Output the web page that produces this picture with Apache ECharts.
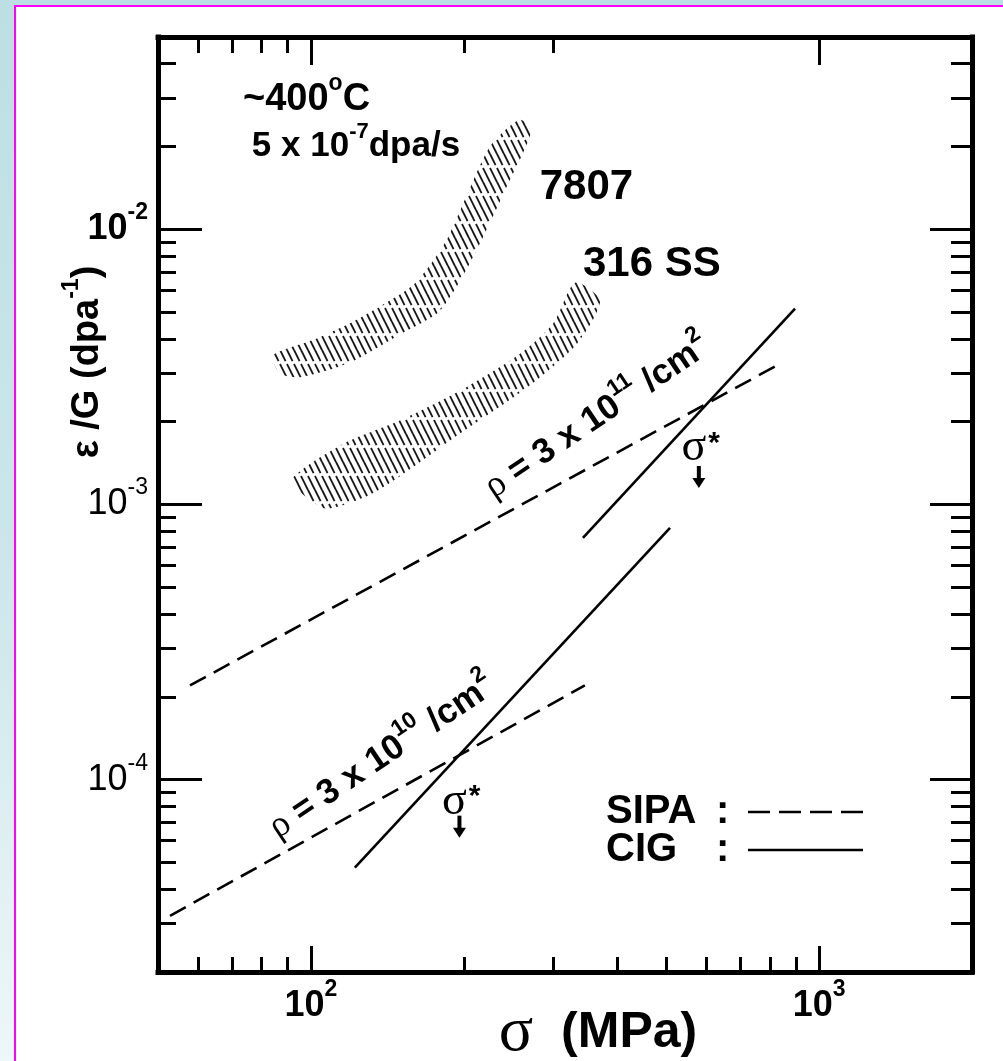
<!DOCTYPE html>
<html>
<head>
<meta charset="utf-8">
<script src="https://cdn.jsdelivr.net/npm/echarts@6/dist/echarts.min.js"></script>
<style>
  html, body { margin: 0; padding: 0; width: 1003px; height: 1061px; overflow: hidden;
    background: linear-gradient(to bottom, #bcdfe4 0%, #cde7ea 55%, #eef7f9 100%); }
  #panel { position: absolute; left: 14px; top: 5px; width: 1003px; height: 1070px;
    background: #fff; border-left: 2px solid #ff00ff; border-top: 2px solid #ff00ff; }
  #chart { position: absolute; left: 0; top: 0; width: 1003px; height: 1061px; }
</style>
</head>
<body>
<div id="panel"></div>
<div id="chart"></div>
<script>
// Irradiation creep per dose, eps/G (dpa^-1), against stress sigma (MPa), ~400 C, 5e-7 dpa/s

// axis ranges and ticks
const sigmaRange = [50, 2000];
const rateRange = [2e-5, 5e-2];
const xMajorTicks = [100, 1000];
const xMinorBottom = [60, 70, 80, 90, 200, 300, 400, 500, 600, 700, 800, 900];
const xMinorTop = [60, 70, 80, 90, 200, 300];
const yMajorTicks = [1e-4, 1e-3, 1e-2];
const yMinorTicks = [3e-5, 4e-5, 5e-5, 6e-5, 7e-5, 8e-5, 9e-5,
  2e-4, 3e-4, 4e-4, 5e-4, 6e-4, 7e-4, 8e-4, 9e-4,
  2e-3, 3e-3, 4e-3, 5e-3, 6e-3, 7e-3, 8e-3, 9e-3,
  2e-2, 3e-2, 4e-2];

// SIPA model (dashed), two dislocation densities
const sipaRho11 = [[57.8, 2.20e-4], [846, 3.28e-3]];
const sipaRho10 = [[52.8, 3.20e-5], [346, 2.20e-4]];
// CIG model (solid)
const cigRho11 = [[343, 7.57e-4], [897, 5.15e-3]];
const cigRho10 = [[122, 4.79e-5], [509, 8.23e-4]];

// measured scatter bands (upper edge left->right, lower edge left->right)
const band7807Upper = [[84.2, 3.48e-3], [100.5, 3.95e-3], [120.6, 4.60e-3], [140.3, 5.40e-3],
  [158.5, 6.25e-3], [173.2, 7.60e-3], [186.4, 9.40e-3], [203.8, 1.36e-2], [225.2, 2.00e-2], [257.0, 2.50e-2]];
const band7807Lower = [[86.9, 3.00e-3], [95.1, 2.90e-3], [119.3, 3.28e-3], [149.7, 4.15e-3],
  [177.0, 4.94e-3], [190.9, 5.95e-3], [203.6, 7.30e-3], [219.5, 9.60e-3], [240.8, 1.38e-2], [272.0, 2.30e-2]];
const band316Upper = [[91.7, 1.24e-3], [115.6, 1.66e-3], [149.7, 2.02e-3], [196.5, 2.59e-3],
  [257.9, 3.53e-3], [299.5, 4.54e-3], [331.0, 6.40e-3]];
const band316Lower = [[96.4, 1.09e-3], [107.5, 9.66e-4], [134.9, 1.12e-3], [196.5, 1.81e-3],
  [266.2, 2.66e-3], [333.9, 3.84e-3], [370.7, 5.50e-3]];

// crossover stresses sigma* and the rate just under each marker
const sigmaStar = [[196, 7.4e-5], [580, 1.38e-3]];

// text anchors (data coordinates)
const noteAnchors = [
  [73.5, 2.97e-2],   // temperature
  [76.5, 2.005e-2],  // dose rate
  [282, 1.416e-2],   // 7807
  [343, 7.43e-3],    // 316 SS
  [366, 2.08e-3],    // rho 3e11
  [138, 1.21e-4],    // rho 3e10
  [181, 8.3e-5],     // sigma* low
  [536, 1.60e-3]     // sigma* high
];
const noteTexts = [
  '{m|~400}{s|o}{m|C}',
  '{m|5 x 10}{s|-7}{m|dpa/s}',
  '{m|7807}',
  '{m|316 SS}',
  '{g|\u03c1}{m| = 3 x 10}{s|11}{m| /cm}{s|2}',
  '{g|\u03c1}{m| = 3 x 10}{s|10}{m| /cm}{s|2}',
  '{q|\u03c3}{k|*}',
  '{q|\u03c3}{k|*}'
];

const SANS = '"Liberation Sans", Arial, Helvetica, sans-serif';
const SERIF = '"Liberation Serif", "Times New Roman", serif';
const L = Math.log10;

function hatchPattern() {
  const c = document.createElement('canvas');
  c.width = 7; c.height = 28;
  const g = c.getContext('2d');
  g.strokeStyle = '#161616';
  g.lineWidth = 1.8;
  const segs = [[0, 0, 7, 14], [0, 14, 5.6, 25.2]];
  for (const s of segs) {
    for (const dx of [-7, 0, 7]) for (const dy of [-28, 0, 28]) {
      g.beginPath(); g.moveTo(s[0] + dx, s[1] + dy); g.lineTo(s[2] + dx, s[3] + dy); g.stroke();
    }
  }
  return { image: c, repeat: 'repeat' };
}
const hatch = hatchPattern();

function bandSeries(upper, lower) {
  const outline = upper.concat(lower.slice().reverse());
  return {
    type: 'custom', xAxisIndex: 0, yAxisIndex: 0, silent: true, z: 1,
    data: outline,
    renderItem: function (params, api) {
      if (params.dataIndex !== 0) return null;
      return { type: 'polygon', shape: { points: outline.map(p => api.coord(p)), smooth: 0.25 },
               style: { fill: hatch, stroke: null } };
    }
  };
}

function lineSeries(name, pts, dashed) {
  return {
    name: name, type: 'line', xAxisIndex: 0, yAxisIndex: 0, data: pts,
    symbol: 'none', silent: true, z: 3,
    lineStyle: { color: '#000', width: 2.6, type: dashed ? [18, 9] : 'solid' }
  };
}

const noteStyles = [
  { size: 38, sup: 23, align: 'left', rot: 0 },
  { size: 35, sup: 22, align: 'left', rot: 0 },
  { size: 42, sup: 24, align: 'left', rot: 0 },
  { size: 42, sup: 24, align: 'left', rot: 0 },
  { size: 35, sup: 23, align: 'center', rot: 34 },
  { size: 35, sup: 23, align: 'center', rot: 34 },
  { size: 46, sup: 30, align: 'left', rot: 0 },
  { size: 46, sup: 30, align: 'left', rot: 0 }
];

const notesSeries = {
  type: 'custom', xAxisIndex: 0, yAxisIndex: 0, silent: true, z: 5, clip: false,
  data: noteAnchors,
  renderItem: function (params, api) {
    const i = params.dataIndex;
    const p = api.coord(noteAnchors[i]);
    const st = noteStyles[i];
    const lh = Math.round(st.size * 1.45);
    return {
      type: 'text', x: p[0], y: p[1], rotation: st.rot * Math.PI / 180,
      style: {
        text: noteTexts[i], align: st.align, verticalAlign: 'middle', fill: '#000',
        rich: {
          m: { fontFamily: SANS, fontWeight: 'bold', fontSize: st.size, lineHeight: lh, verticalAlign: 'middle' },
          s: { fontFamily: SANS, fontWeight: 'bold', fontSize: st.sup, lineHeight: st.sup, verticalAlign: 'top' },
          g: { fontFamily: SERIF, fontSize: st.size * 1.05, lineHeight: lh, verticalAlign: 'middle' },
          q: { fontFamily: SERIF, fontSize: st.size, lineHeight: 40, verticalAlign: 'middle' },
          k: { fontFamily: SANS, fontWeight: 'bold', fontSize: st.sup, lineHeight: 30, verticalAlign: 'top',
               padding: [0, 0, 0, 2] }
        }
      }
    };
  }
};

const arrowSeries = {
  type: 'custom', xAxisIndex: 0, yAxisIndex: 0, silent: true, z: 5, clip: false,
  data: sigmaStar,
  renderItem: function (params, api) {
    const p = api.coord(sigmaStar[params.dataIndex]);
    return {
      type: 'group', x: p[0], y: p[1],
      children: [
        { type: 'rect', shape: { x: -2, y: 0, width: 4, height: 13 }, style: { fill: '#000' } },
        { type: 'polygon', shape: { points: [[-6.5, 12], [6.5, 12], [0, 22]] }, style: { fill: '#000' } }
      ]
    };
  }
};

const axisLineStyle = { color: '#000', width: 5, cap: 'square' };

function xDeco(position, showLine, ticks, len, labels) {
  return {
    type: 'value', position: position, min: L(sigmaRange[0]), max: L(sigmaRange[1]),
    splitLine: { show: false },
    axisLine: { show: showLine, onZero: false, lineStyle: axisLineStyle },
    axisTick: { show: true, inside: true, length: len, customValues: ticks.map(L),
                lineStyle: { color: '#000', width: 3 } },
    axisLabel: labels ? {
      show: true, customValues: ticks.map(L), margin: 6,
      formatter: v => '{m|10}{s|' + Math.round(v) + '}',
      rich: {
        m: { fontFamily: SANS, fontWeight: 'bold', fontSize: 36, lineHeight: 56, color: '#000', verticalAlign: 'middle' },
        s: { fontFamily: SANS, fontWeight: 'bold', fontSize: 23, lineHeight: 23, color: '#000', verticalAlign: 'top' }
      }
    } : { show: false }
  };
}
function yDeco(position, showLine, ticks, len, labels) {
  return {
    type: 'value', position: position, min: L(rateRange[0]), max: L(rateRange[1]),
    splitLine: { show: false },
    axisLine: { show: showLine, onZero: false, lineStyle: axisLineStyle },
    axisTick: { show: true, inside: true, length: len, customValues: ticks.map(L),
                lineStyle: { color: '#000', width: 3 } },
    axisLabel: labels ? {
      show: true, customValues: ticks.map(L), margin: 10,
      formatter: function (v) {
        const e = Math.round(v);
        return e === -2 ? '{b|10}{bs|' + e + '}' : '{n|10}{ns|' + e + '}';
      },
      rich: {
        b: { fontFamily: SANS, fontWeight: 'bold', fontSize: 36, lineHeight: 56, color: '#000', verticalAlign: 'middle' },
        bs: { fontFamily: SANS, fontWeight: 'bold', fontSize: 23, lineHeight: 23, color: '#000', verticalAlign: 'top' },
        n: { fontFamily: SANS, fontWeight: 'normal', fontSize: 36, lineHeight: 56, color: '#000', verticalAlign: 'middle' },
        ns: { fontFamily: SANS, fontWeight: 'normal', fontSize: 23, lineHeight: 23, color: '#000', verticalAlign: 'top' }
      }
    } : { show: false }
  };
}

// key: model names with line samples
const keyFont = 'bold 40px ' + SANS;
const keyItems = [
  { name: 'SIPA', y: 812, dash: [22, 9] },
  { name: 'CIG', y: 850, dash: null }
];
const keyGraphics = [];
keyItems.forEach(function (k) {
  keyGraphics.push({ type: 'text', x: 606, y: k.y, silent: true,
    style: { text: k.name, font: keyFont, fill: '#000', align: 'left', verticalAlign: 'middle' } });
  keyGraphics.push({ type: 'text', x: 716, y: k.y, silent: true,
    style: { text: ':', font: keyFont, fill: '#000', align: 'left', verticalAlign: 'middle' } });
  keyGraphics.push({ type: 'line', silent: true, shape: { x1: 748, y1: k.y, x2: 863, y2: k.y },
    style: { stroke: '#000', lineWidth: 2.6, lineDash: k.dash } });
});

const chart = echarts.init(document.getElementById('chart'), null, { renderer: 'canvas' });
chart.setOption({
  backgroundColor: 'transparent',
  animation: false,
  grid: { left: 158, top: 37, width: 814, height: 935, containLabel: false },
  xAxis: [
    { type: 'log', logBase: 10, min: sigmaRange[0], max: sigmaRange[1], show: false },
    xDeco('bottom', true, xMajorTicks, 26, true),
    xDeco('bottom', false, xMinorBottom, 15, false),
    xDeco('top', true, xMajorTicks, 28, false),
    xDeco('top', false, xMinorTop, 16, false)
  ],
  yAxis: [
    { type: 'log', logBase: 10, min: rateRange[0], max: rateRange[1], show: false },
    yDeco('left', true, yMajorTicks, 44, true),
    yDeco('left', false, yMinorTicks, 18, false),
    yDeco('right', true, yMajorTicks, 42, false),
    yDeco('right', false, yMinorTicks, 21, false)
  ],
  graphic: [
    {
      type: 'text', x: 88, y: 362, rotation: Math.PI / 2, silent: true,
      style: {
        text: '{t|\u03b5 /G (dpa}{s|-1}{t|)}', align: 'center', verticalAlign: 'middle', fill: '#000',
        rich: {
          t: { fontFamily: SANS, fontWeight: 'bold', fontSize: 38, lineHeight: 56, verticalAlign: 'middle' },
          s: { fontFamily: SANS, fontWeight: 'bold', fontSize: 23, lineHeight: 23, verticalAlign: 'top' }
        }
      }
    },
    {
      type: 'text', x: 598, y: 1033, silent: true,
      style: {
        text: '{g|\u03c3}{t|  (MPa)}', align: 'center', verticalAlign: 'middle', fill: '#000',
        rich: {
          g: { fontFamily: SERIF, fontSize: 64, lineHeight: 62, verticalAlign: 'middle' },
          t: { fontFamily: SANS, fontWeight: 'bold', fontSize: 50, lineHeight: 62, verticalAlign: 'middle' }
        }
      }
    }
  ].concat(keyGraphics),
  series: [
    bandSeries(band7807Upper, band7807Lower),
    bandSeries(band316Upper, band316Lower),
    lineSeries('SIPA', sipaRho11, true),
    lineSeries('SIPA', sipaRho10, true),
    lineSeries('CIG', cigRho11, false),
    lineSeries('CIG', cigRho10, false),
    notesSeries,
    arrowSeries
  ]
});
</script>
</body>
</html>
